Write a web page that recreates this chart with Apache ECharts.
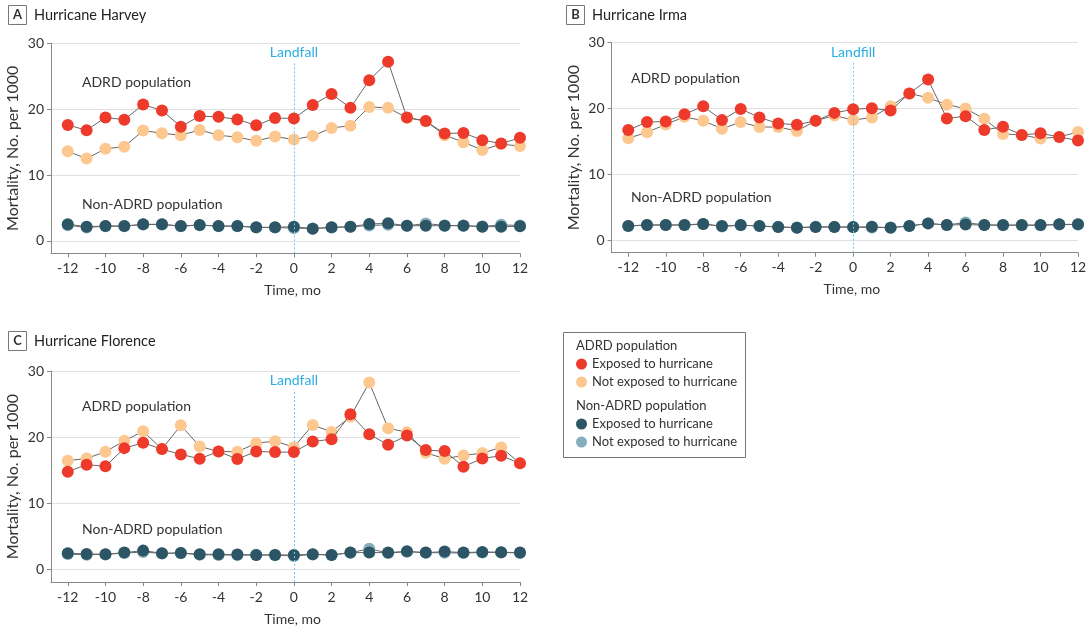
<!DOCTYPE html>
<html>
<head>
<meta charset="utf-8">
<script src="https://cdn.jsdelivr.net/npm/echarts@6/dist/echarts.min.js"></script>
<style>html,body{margin:0;padding:0;background:#fff}#c{width:1090px;height:629px}</style>
</head>
<body>
<div id="c"></div>
<script>
// ---- data ----
const months = [-12,-11,-10,-9,-8,-7,-6,-5,-4,-3,-2,-1,0,1,2,3,4,5,6,7,8,9,10,11,12];
const xTicks = [-12,-10,-8,-6,-4,-2,0,2,4,6,8,10,12];
const yTicks = [0,10,20,30];

const harveyAdrdExposed = [17.6,16.8,18.75,18.4,20.7,19.8,17.35,18.95,18.85,18.45,17.55,18.65,18.6,20.65,22.3,20.2,24.4,27.2,18.75,18.2,16.3,16.4,15.3,14.8,15.65];
const harveyAdrdNot = [13.6,12.5,14.0,14.3,16.75,16.35,16.05,16.85,16.05,15.75,15.2,15.85,15.4,15.95,17.15,17.5,20.35,20.2,18.7,18.2,16.05,15.0,13.8,14.7,14.4];
const harveyNonExposed = [2.53,2.17,2.27,2.27,2.53,2.53,2.27,2.43,2.27,2.27,2.07,2.07,2.17,1.87,2.07,2.17,2.58,2.68,2.32,2.32,2.32,2.32,2.17,2.17,2.22];
const harveyNonNot = [2.4,2.05,2.25,2.25,2.5,2.5,2.25,2.4,2.25,2.25,2.05,2.05,1.95,1.9,2.05,2.15,2.35,2.45,2.3,2.65,2.35,2.35,2.2,2.45,2.35];

const irmaAdrdExposed = [16.75,17.95,18.05,19.15,20.35,18.25,19.95,18.65,17.75,17.55,18.15,19.35,19.9,20.05,19.7,22.3,24.4,18.5,18.85,16.75,17.25,16.0,16.25,15.7,15.15];
const irmaAdrdNot = [15.5,16.4,17.6,18.75,18.15,16.95,17.95,17.2,17.2,16.6,18.15,18.95,18.25,18.65,20.35,22.3,21.65,20.6,20.0,18.45,16.15,16.0,15.45,15.7,16.45];
const irmaNonExposed = [2.17,2.32,2.32,2.32,2.48,2.17,2.32,2.17,2.02,1.92,2.02,2.02,2.02,2.07,1.92,2.17,2.58,2.32,2.4,2.32,2.32,2.32,2.32,2.43,2.43];
const irmaNonNot = [2.2,2.35,2.35,2.35,2.5,2.1,2.3,2.2,2.05,1.95,2.05,2.05,2.0,1.95,1.95,2.2,2.55,2.35,2.7,2.35,2.3,2.3,2.3,2.4,2.4];

const florenceAdrdExposed = [14.8,15.85,15.6,18.35,19.15,18.2,17.4,16.75,17.85,16.7,17.85,17.75,17.75,19.35,19.7,23.45,20.45,18.85,20.25,18.05,17.9,15.55,16.8,17.2,16.05];
const florenceAdrdNot = [16.45,16.8,17.8,19.45,20.9,18.2,21.8,18.6,17.85,17.8,19.1,19.4,18.5,21.85,20.8,23.1,28.25,21.35,20.75,17.65,16.75,17.25,17.6,18.45,16.05];
const florenceNonExposed = [2.47,2.37,2.32,2.57,2.87,2.47,2.52,2.32,2.32,2.27,2.22,2.22,2.22,2.32,2.22,2.57,2.57,2.57,2.77,2.57,2.72,2.57,2.67,2.62,2.57];
const florenceNonNot = [2.35,2.25,2.3,2.5,2.65,2.45,2.5,2.25,2.2,2.2,2.2,2.2,2.05,2.3,2.2,2.55,3.15,2.5,2.7,2.55,2.55,2.5,2.6,2.6,2.5];

const panelTitles = ['Hurricane Harvey','Hurricane Irma','Hurricane Florence'];
const panelLetters = ['A','B','C'];
const landfallLabels = ['Landfall','Landfill','Landfall'];
const seriesNames = ['Exposed to hurricane','Not exposed to hurricane'];
const groupNames = ['ADRD population','Non-ADRD population'];

// ---- styling ----
const FONT = 'Lato';
const TXT = '#333';
const C_RED = '#ee3a2b', C_ORANGE = '#fdc890', C_DARK = '#2c5565', C_LIGHT = '#86adbc';
const LINE = '#666';
const X_MIN = -12.89, Y_MIN = -1.87;

const grids = [
  {left: 51, top: 43.3, width: 469, height: 210},
  {left: 611.6, top: 42.7, width: 466.4, height: 210},
  {left: 51, top: 371, width: 469, height: 211}
];
const panels = [
  [harveyAdrdExposed, harveyAdrdNot, harveyNonExposed, harveyNonNot],
  [irmaAdrdExposed, irmaAdrdNot, irmaNonExposed, irmaNonNot],
  [florenceAdrdExposed, florenceAdrdNot, florenceNonExposed, florenceNonNot]
];

const xAxes = grids.map((g, i) => ({
  type: 'value', gridIndex: i, min: X_MIN, max: 12,
  name: 'Time, mo', nameLocation: 'middle', nameGap: 30,
  nameTextStyle: {fontFamily: FONT, fontSize: 14, color: TXT, padding: [0,0,0,14]},
  axisLine: {show: true, onZero: false, lineStyle: {color: '#888', width: 1}},
  axisTick: {show: true, length: 4, customValues: xTicks, lineStyle: {color: '#888'}},
  axisLabel: {customValues: xTicks, fontFamily: FONT, fontSize: 14, color: TXT, margin: 8},
  splitLine: {show: false}
}));
const yAxes = grids.map((g, i) => ({
  type: 'value', gridIndex: i, min: Y_MIN, max: 30,
  name: 'Mortality, No. per 1000', nameLocation: 'middle', nameGap: 30,
  nameTextStyle: {fontFamily: FONT, fontSize: 16, color: TXT},
  axisLine: {show: true, onZero: false, lineStyle: {color: '#888', width: 1}},
  axisTick: {show: true, length: 4, customValues: yTicks, lineStyle: {color: '#888'}},
  axisLabel: {customValues: yTicks, fontFamily: FONT, fontSize: 14, color: TXT, margin: 7},
  splitLine: {show: true, lineStyle: {color: '#e0e0e0', width: 1}}
}));

const series = [];
panels.forEach((p, i) => {
  const mk = (name, vals, color, z, extra) => Object.assign({
    type: 'line', name: name, xAxisIndex: i, yAxisIndex: i,
    data: months.map((m, k) => [m, vals[k]]),
    symbol: 'circle', symbolSize: 12, showSymbol: true, clip: false,
    lineStyle: {color: LINE, width: 1},
    itemStyle: {color: color, borderWidth: 0},
    emphasis: {disabled: true}, z: z
  }, extra || {});
  const ml = {color: '#6fcbef', type: [2, 2], width: 1};
  series.push(mk(seriesNames[1], p[3], C_LIGHT, 2, {
    markLine: {
      silent: true, symbol: 'none', animation: false,
      lineStyle: ml,
      label: {show: true, position: 'end', distance: 2, formatter: landfallLabels[i],
              fontFamily: FONT, fontSize: 14, color: '#2aaee3'},
      data: [[{coord: [0, Y_MIN], lineStyle: ml}, {coord: [0, 27.2]}]]
    }
  }));
  series.push(mk(seriesNames[0], p[2], C_DARK, 3));
  series.push(mk(seriesNames[1], p[1], C_ORANGE, 4));
  series.push(mk(seriesNames[0], p[0], C_RED, 5));
});

// annotation + title graphics
const annoPos = [
  {x: 82, yA: 83, yN: 205.7},
  {x: 631, yA: 79.3, yN: 198.3},
  {x: 82, yA: 407.3, yN: 530}
];
const titlePos = [{x: 8, y: 15}, {x: 566, y: 15}, {x: 8, y: 341}];
const graphic = [];
annoPos.forEach((a, i) => {
  graphic.push({type: 'text', left: a.x, top: a.yA - 8, style: {text: groupNames[0], font: '14px ' + FONT, fill: TXT}});
  graphic.push({type: 'text', left: a.x, top: a.yN - 8, style: {text: groupNames[1], font: '14px ' + FONT, fill: TXT}});
  const t = titlePos[i];
  graphic.push({type: 'rect', shape: {x: t.x + 0.5, y: t.y - 9.5, width: 18, height: 19}, style: {fill: '#fff', stroke: '#777', lineWidth: 1}});
  graphic.push({type: 'text', x: t.x + 9.5, y: t.y, style: {text: panelLetters[i], font: 'bold 13px ' + FONT, fill: TXT, align: 'center', verticalAlign: 'middle'}});
  graphic.push({type: 'text', x: t.x + 26, y: t.y, style: {text: panelTitles[i], font: '14.5px ' + FONT, fill: '#222', verticalAlign: 'middle'}});
});
// legend frame + headers
graphic.push({type: 'rect', shape: {x: 563.5, y: 332.5, width: 182, height: 125}, style: {fill: 'none', stroke: '#777', lineWidth: 1}});
graphic.push({type: 'text', left: 576, top: 339.5, style: {text: groupNames[0], font: '13px ' + FONT, fill: TXT}});
graphic.push({type: 'text', left: 576, top: 399.5, style: {text: groupNames[1], font: '13px ' + FONT, fill: TXT}});

const legendCommon = {
  orient: 'vertical', left: 576, padding: 0, itemGap: 5, itemWidth: 11, itemHeight: 11,
  icon: 'circle', selectedMode: false, textStyle: {fontFamily: FONT, fontSize: 13, color: TXT}
};

const option = {
  animation: false,
  grid: grids,
  xAxis: xAxes,
  yAxis: yAxes,
  series: series,
  legend: [
    Object.assign({}, legendCommon, {top: 357.5, data: [
      {name: seriesNames[0], itemStyle: {color: C_RED}},
      {name: seriesNames[1], itemStyle: {color: C_ORANGE}}]}),
    Object.assign({}, legendCommon, {top: 417.5, data: [
      {name: seriesNames[0], itemStyle: {color: C_DARK}},
      {name: seriesNames[1], itemStyle: {color: C_LIGHT}}]})
  ],
  graphic: graphic
};
const chart = echarts.init(document.getElementById('c'), null, {renderer: 'canvas'});
chart.setOption(option);
</script>
</body>
</html>
